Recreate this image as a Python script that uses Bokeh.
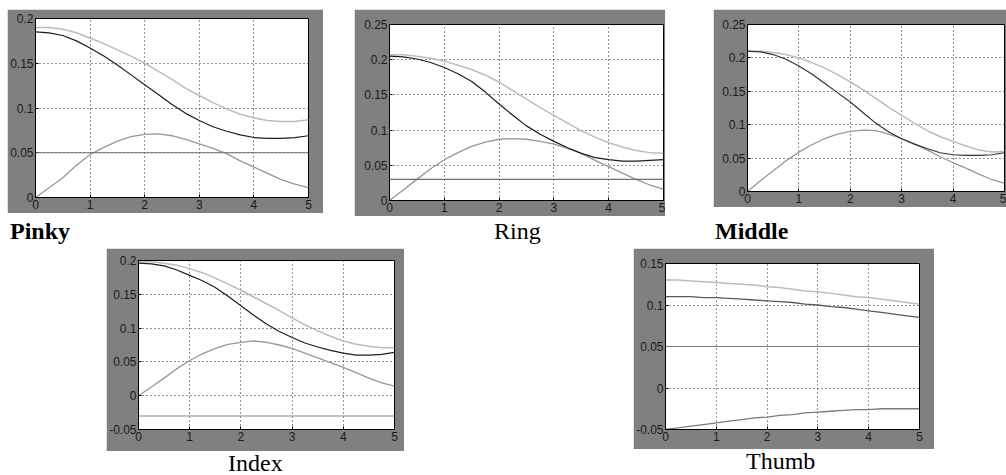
from bokeh.plotting import figure
from bokeh.layouts import row, column
from bokeh.models import Range1d, FixedTicker, Span, Spacer, Div
from bokeh.embed import file_html
from bokeh.resources import INLINE

# ---------------- data ----------------
t = [0.0, 0.25, 0.5, 0.75, 1.0, 1.25, 1.5, 1.75, 2.0, 2.25, 2.5,
     2.75, 3.0, 3.25, 3.5, 3.75, 4.0, 4.25, 4.5, 4.75, 5.0]
x_ticks = [0, 1, 2, 3, 4, 5]

pinky_upper = [0.190, 0.190, 0.188, 0.184, 0.178, 0.172, 0.165, 0.158, 0.150, 0.141, 0.132,
               0.122, 0.114, 0.106, 0.099, 0.093, 0.089, 0.086, 0.085, 0.085, 0.087]
pinky_mid = [0.185, 0.184, 0.181, 0.175, 0.167, 0.158, 0.148, 0.137, 0.126, 0.115, 0.104,
             0.094, 0.086, 0.079, 0.074, 0.070, 0.067, 0.066, 0.066, 0.067, 0.069]
pinky_hump = [0.000, 0.011, 0.022, 0.036, 0.048, 0.056, 0.063, 0.068, 0.0705, 0.071, 0.069,
              0.065, 0.060, 0.055, 0.049, 0.041, 0.034, 0.027, 0.020, 0.015, 0.011]
pinky_level = 0.05
pinky_yticks = [0, 0.05, 0.1, 0.15, 0.2]

ring_upper = [0.207, 0.207, 0.205, 0.202, 0.198, 0.192, 0.186, 0.178, 0.168, 0.156, 0.144,
              0.132, 0.121, 0.110, 0.099, 0.090, 0.082, 0.076, 0.071, 0.068, 0.067]
ring_mid = [0.205, 0.204, 0.201, 0.196, 0.189, 0.180, 0.169, 0.154, 0.137, 0.121, 0.106,
            0.094, 0.084, 0.075, 0.067, 0.061, 0.058, 0.056, 0.056, 0.057, 0.058]
ring_hump = [0.000, 0.015, 0.030, 0.045, 0.058, 0.068, 0.077, 0.083, 0.087, 0.088, 0.087,
             0.084, 0.080, 0.074, 0.067, 0.057, 0.048, 0.039, 0.030, 0.022, 0.016]
ring_level = 0.03
ring_yticks = [0, 0.05, 0.1, 0.15, 0.2, 0.25]

middle_upper = [0.210, 0.210, 0.208, 0.205, 0.200, 0.193, 0.185, 0.175, 0.164, 0.152, 0.139,
                0.126, 0.114, 0.102, 0.091, 0.082, 0.075, 0.068, 0.062, 0.059, 0.060]
middle_mid = [0.210, 0.209, 0.205, 0.198, 0.188, 0.176, 0.162, 0.148, 0.134, 0.118, 0.102,
              0.089, 0.079, 0.071, 0.064, 0.058, 0.055, 0.054, 0.054, 0.055, 0.058]
middle_hump = [0.000, 0.016, 0.031, 0.046, 0.059, 0.070, 0.079, 0.086, 0.090, 0.092, 0.091,
               0.086, 0.079, 0.071, 0.062, 0.052, 0.043, 0.035, 0.026, 0.018, 0.012]
middle_yticks = [0, 0.05, 0.1, 0.15, 0.2, 0.25]

index_upper = [0.198, 0.198, 0.196, 0.193, 0.188, 0.182, 0.174, 0.165, 0.156, 0.146, 0.136,
               0.126, 0.115, 0.105, 0.096, 0.088, 0.081, 0.076, 0.073, 0.071, 0.071]
index_mid = [0.196, 0.195, 0.192, 0.186, 0.178, 0.170, 0.160, 0.147, 0.133, 0.119, 0.106,
             0.095, 0.086, 0.078, 0.072, 0.067, 0.063, 0.060, 0.060, 0.061, 0.064]
index_hump = [0.000, 0.013, 0.026, 0.040, 0.052, 0.062, 0.070, 0.076, 0.079, 0.081, 0.079,
              0.075, 0.070, 0.063, 0.056, 0.049, 0.042, 0.034, 0.026, 0.019, 0.014]
index_level = -0.03
index_yticks = [-0.05, 0, 0.05, 0.1, 0.15, 0.2]

thumb_upper = [0.130, 0.130, 0.129, 0.128, 0.127, 0.126, 0.125, 0.124, 0.122, 0.121, 0.119,
               0.117, 0.116, 0.114, 0.112, 0.110, 0.109, 0.107, 0.105, 0.103, 0.101]
thumb_mid = [0.110, 0.110, 0.110, 0.109, 0.109, 0.108, 0.107, 0.106, 0.105, 0.104, 0.103,
             0.101, 0.100, 0.098, 0.097, 0.095, 0.093, 0.091, 0.089, 0.087, 0.085]
thumb_low = [-0.050, -0.048, -0.046, -0.044, -0.042, -0.040, -0.038, -0.036, -0.035, -0.033, -0.032,
             -0.030, -0.029, -0.028, -0.027, -0.026, -0.026, -0.025, -0.025, -0.025, -0.025]
thumb_level = 0.05
thumb_yticks = [-0.05, 0, 0.05, 0.1, 0.15]

labels = ["Pinky", "Ring", "Middle", "Index", "Thumb"]

# ---------------- styling ----------------
FRAME_GRAY = "#808080"
C_LIGHT = "#bcbcbc"
C_DARK = "#1e1e1e"
C_HUMP = "#979797"
C_LEVEL = "#6f6f6f"


def fmt(v):
    s = ("%.2f" % v).rstrip("0").rstrip(".")
    return "0" if s in ("-0", "") else s


def panel(w, h, bl, br, bt, bb, ylo, yhi, yticks):
    p = figure(width=w, height=h, x_range=Range1d(0, 5), y_range=Range1d(ylo, yhi),
               output_backend="svg", toolbar_location=None,
               min_border_left=bl, min_border_right=br, min_border_top=bt, min_border_bottom=bb,
               border_fill_color=FRAME_GRAY, background_fill_color="white")
    p.outline_line_color = "black"
    p.outline_line_width = 1
    p.xaxis.ticker = FixedTicker(ticks=x_ticks)
    p.yaxis.ticker = FixedTicker(ticks=yticks)
    p.xaxis.major_label_overrides = {v: str(v) for v in x_ticks}
    p.yaxis.major_label_overrides = {v: fmt(v) for v in yticks}
    for ax in (p.xaxis[0], p.yaxis[0]):
        ax.axis_line_color = "black"
        ax.major_tick_in = 3
        ax.major_tick_out = 0
        ax.major_tick_line_color = "black"
        ax.minor_tick_line_color = None
        ax.major_label_text_font = "Liberation Sans"
        ax.major_label_text_font_size = "12px"
        ax.major_label_text_color = "#1a1a1a"
        ax.major_label_standoff = 2
    for g in (p.xgrid[0], p.ygrid[0]):
        g.grid_line_color = "black"
        g.grid_line_dash = "1 3"
        g.grid_line_alpha = 0.85
    p.xgrid.ticker = FixedTicker(ticks=x_ticks)
    p.ygrid.ticker = FixedTicker(ticks=yticks)
    return p


def add_level(p, level, color=C_LEVEL):
    p.add_layout(Span(location=level, dimension="width", line_color=color, line_width=1.2))


def label(text, bold, top, left, bottom, h=20):
    return Div(text=text, width=90, height=h, margin=(top, 0, bottom, left),
               styles={"font-family": "'Liberation Serif', 'DejaVu Serif', serif", "font-size": "24px",
                       "font-weight": "bold" if bold else "normal", "line-height": "20px",
                       "color": "black", "white-space": "nowrap", "overflow": "visible"})


# Pinky
p1 = panel(316, 204, 28, 15, 9, 16, 0, 0.2, pinky_yticks)
add_level(p1, pinky_level)
p1.line(t, pinky_hump, line_color=C_HUMP, line_width=1.3)
p1.line(t, pinky_upper, line_color=C_LIGHT, line_width=1.5)
p1.line(t, pinky_mid, line_color=C_DARK, line_width=1.2)

# Ring
p2 = panel(311, 207, 35, 2, 15, 16, 0, 0.25, ring_yticks)
add_level(p2, ring_level)
p2.line(t, ring_hump, line_color=C_HUMP, line_width=1.3)
p2.line(t, ring_upper, line_color=C_LIGHT, line_width=1.5)
p2.line(t, ring_mid, line_color=C_DARK, line_width=1.2)

# Middle
p3 = panel(293, 198, 34, 2, 15, 16, 0, 0.25, middle_yticks)
p3.line(t, middle_hump, line_color=C_HUMP, line_width=1.3)
p3.line(t, middle_upper, line_color=C_LIGHT, line_width=1.5)
p3.line(t, middle_mid, line_color="#333333", line_width=1.2)

# Index
p4 = panel(298, 203, 30, 10, 12, 22, -0.05, 0.2, index_yticks)
add_level(p4, index_level, "#8a8a8a")
p4.line(t, index_hump, line_color=C_HUMP, line_width=1.3)
p4.line(t, index_upper, line_color=C_LIGHT, line_width=1.5)
p4.line(t, index_mid, line_color=C_DARK, line_width=1.2)

# Thumb
p5 = panel(301, 201, 30, 15, 15, 20, -0.05, 0.15, thumb_yticks)
add_level(p5, thumb_level, "#7a7a7a")
p5.line(t, thumb_low, line_color="#7a7a7a", line_width=1.3)
p5.line(t, thumb_upper, line_color=C_LIGHT, line_width=1.5)
p5.line(t, thumb_mid, line_color="#5a5a5a", line_width=1.3)

col1 = column(Spacer(height=9, width=316), p1, label(labels[0], True, 8, 3, 4), spacing=0)
col2 = column(Spacer(height=9, width=311), p2, label(labels[1], False, 5, 140, 4), spacing=0)
col3 = column(Spacer(height=9, width=293), p3, label(labels[2], True, 14, 2, 4), spacing=0)
row1 = row(Spacer(width=7, height=245), col1, Spacer(width=31, height=245), col2,
           Spacer(width=48, height=245), col3, spacing=0)

col4 = column(Spacer(height=3, width=298), p4, label(labels[3], False, 2, 122, 0, 20), spacing=0)
col5 = column(Spacer(height=3, width=301), p5, label(labels[4], False, 2, 113, 0, 20), spacing=0)
row2 = row(Spacer(width=106, height=230), col4, Spacer(width=229, height=230), col5, spacing=0)

layout = column(row1, row2, spacing=0)

open("out.html", "w").write(file_html(layout, INLINE))
